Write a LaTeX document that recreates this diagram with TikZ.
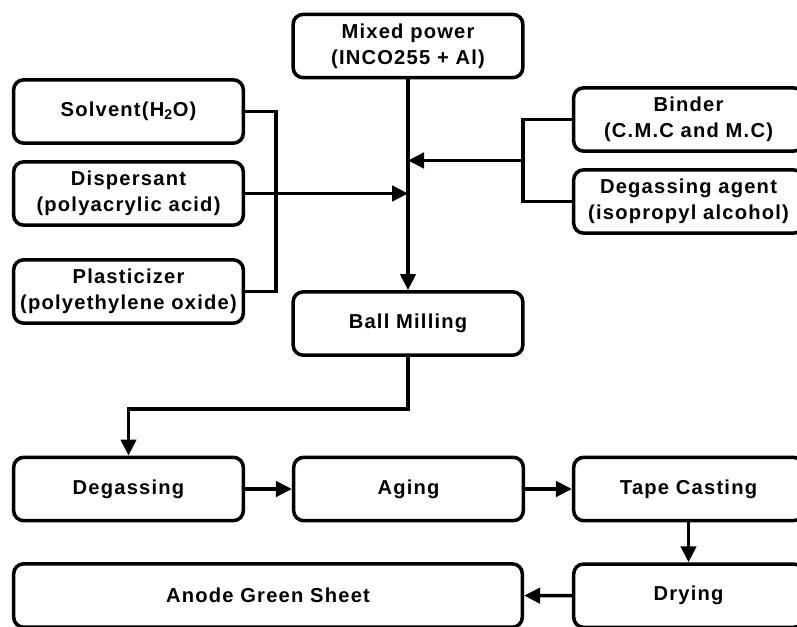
\documentclass[tikz,border=0pt]{standalone}
\usepackage{fontspec}
\newfontfamily\boxfont{Liberation Sans}[LetterSpace=6]
\usetikzlibrary{arrows.meta,positioning}

\begin{document}
\begin{tikzpicture}[x=0.03cm,y=-0.03cm,line width=3pt,node distance=8.4cm,on grid,
                      box/.style={draw,rounded corners=0.3cm,minimum width=6.89cm,minimum height=1.9cm,
                        align=center,font=\boxfont\bfseries\fontsize{17.2}{22}\selectfont},
                      >={Triangle[length=0.48cm,width=0.46cm]}]
                      \useasboundingbox (0,0) rectangle (797,626);
                      \clip (0,0) rectangle (797,626);
                      % inputs
                      \node[box] (mix) at (408,46) {Mixed power\\(INCO255 + Al)};
                      \node[box] (solvent) at (128.5,111.5) {Solvent(H\textsubscript{2}O)};
                      \node[box] (disp) at (128.5,193.5) {Dispersant\\(polyacrylic acid)};
                      \node[box] (plast) at (128.5,291.5) {Plasticizer\\(polyethylene oxide)};
                      \node[box] (binder) at (688.5,119.5) {Binder\\(C.M.C and M.C)};
                      \node[box] (agent) at (688.5,201.5) {Degassing agent\\(isopropyl alcohol)};
                      \node[box] (mill) at (408,323.5) {Ball Milling};
                      % process
                      \node[box] (degas) at (128.5,489) {Degassing};
                      \node[box] (aging) [right=of degas] {Aging};
                      \node[box] (tape) [right=of aging] {Tape Casting};
                      \node[box] (dry) [below=3.2cm of tape] {Drying};
                      \node[box, minimum width=15.26cm] (sheet) at (268,595.5) {Anode Green Sheet};
                      \coordinate (rj) at (523,160.5);
                      \draw (solvent.east) -- ++(31,0) |- (plast.east);
                      \draw (binder.west) -- (rj |- binder.west) |- (agent.west);
                      \draw[->] (disp.east) -- (disp.east -| mix.south);
                      \draw[->] (rj) -- (rj -| mix.south);
                      \draw[->] (mill.south) -- ++(0,52) -| (degas.north);
                      \path[->]
                      (mix) edge (mill)
                      (degas) edge (aging)
                      (aging) edge (tape)
                      (tape) edge (dry)
                      (dry) edge (sheet);
                  \end{tikzpicture}
\end{document}
